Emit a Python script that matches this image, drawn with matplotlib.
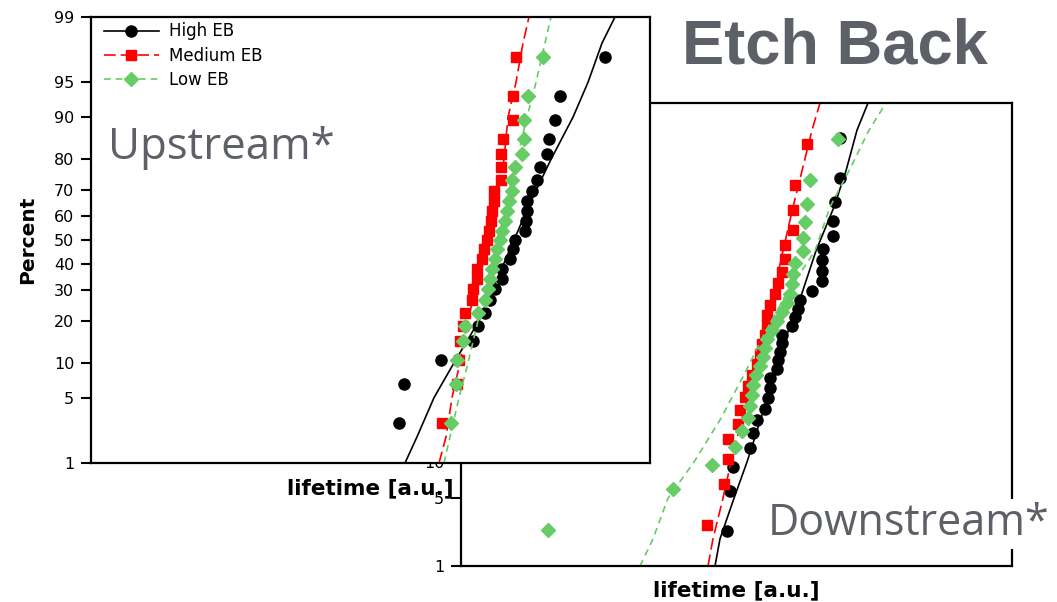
import matplotlib
matplotlib.use("Agg")
import matplotlib.pyplot as plt
import numpy as np
from statistics import NormalDist

# median-rank plotting positions [%]
pct_n25 = [2.8, 6.7, 10.6, 14.6, 18.5, 22.4, 26.4, 30.3, 34.3, 38.2, 42.1, 46.1, 50.0,
           53.9, 57.9, 61.8, 65.7, 69.7, 73.6, 77.6, 81.5, 85.4, 89.4, 93.3, 97.2]
pct_n28 = [2.5, 6.0, 9.5, 13.0, 16.5, 20.1, 23.6, 27.1, 30.6, 34.2, 37.7, 41.2, 44.7, 48.2,
           51.8, 55.3, 58.8, 62.3, 65.8, 69.4, 72.9, 76.4, 79.9, 83.5, 87.0, 90.5, 94.0, 97.5]
pct_n29 = [2.4, 5.8, 9.2, 12.6, 16.0, 19.4, 22.8, 26.2, 29.6, 33.0, 36.4, 39.8, 43.2, 46.6, 50.0,
           53.4, 56.8, 60.2, 63.6, 67.0, 70.4, 73.8, 77.2, 80.6, 84.0, 87.4, 90.8, 94.2, 97.6]
fit_pct = [1, 2, 5, 10, 20, 35, 50, 65, 80, 90, 95, 98, 99]
yticks = [1, 5, 10, 20, 30, 40, 50, 60, 70, 80, 90, 95, 99]

# upstream lifetimes [a.u.]
up_high = [30.8, 31.3, 35.0, 38.2, 38.7, 39.4, 39.9, 40.4, 41.1, 41.1, 41.9, 42.2, 42.4,
           43.4, 43.5, 43.6, 43.6, 44.1, 44.6, 44.9, 45.6, 45.8, 46.4, 46.9, 51.4]
up_med = [35.1, 36.6, 36.8, 36.9, 37.2, 37.4, 38.1, 38.2, 38.6, 38.6, 39.1, 39.3, 39.6,
          39.8, 40.0, 40.1, 40.3, 40.3, 41.0, 41.0, 41.0, 41.2, 42.2, 42.2, 42.5]
up_low = [36.0, 36.5, 36.6, 37.2, 37.4, 38.7, 39.4, 39.7, 39.9, 40.1, 40.4, 40.6, 40.9,
          41.1, 41.4, 41.6, 41.8, 42.1, 42.1, 42.4, 43.1, 43.3, 43.3, 43.7, 45.2]
up_high_fit = [31.4, 32.6, 34.3, 36.3, 38.8, 40.7, 42.3, 43.9, 46.0, 48.2, 49.7, 51.1, 52.4]
up_med_fit = [34.8, 35.5, 36.1, 36.9, 37.7, 38.7, 39.6, 40.5, 41.3, 41.7, 42.5, 43.2, 43.8]
up_low_fit = [35.3, 35.9, 36.8, 37.7, 38.7, 39.8, 40.6, 41.5, 42.6, 43.6, 44.5, 45.4, 46.0]

# downstream lifetimes [a.u.]
dn_high = [26.6, 26.9, 27.2, 28.9, 29.2, 29.6, 30.4, 30.7, 30.9, 30.9, 31.6, 31.7, 31.9, 32.1, 32.1,
           33.1, 33.4, 33.7, 33.9, 35.1, 36.1, 36.1, 36.1, 36.2, 37.2, 37.2, 37.4, 37.9, 37.9]
dn_med = [24.6, 26.3, 26.7, 26.7, 27.7, 27.9, 28.4, 28.7, 29.1, 29.6, 29.9, 30.1, 30.4,
          30.6, 30.6, 30.9, 31.4, 31.7, 32.1, 32.4, 32.4, 33.2, 33.2, 33.4, 34.6]
dn_low = [8.7, 21.2, 25.1, 27.4, 28.1, 28.7, 28.9, 29.1, 29.2, 29.5, 29.9, 30.2, 30.4, 30.6,
          31.1, 31.6, 32.1, 32.6, 32.9, 33.1, 33.2, 33.4, 34.2, 34.2, 34.4, 34.6, 34.9, 37.7]
dn_high_fit = [25.4, 25.9, 27.3, 28.6, 30.0, 31.4, 32.6, 34.0, 35.5, 37.3, 38.5, 39.6, 40.7]
dn_med_fit = [24.7, 25.2, 26.2, 27.0, 28.1, 29.3, 30.3, 31.2, 32.2, 33.2, 34.1, 35.1, 35.9]
dn_low_fit = [17.9, 19.2, 20.7, 23.3, 26.0, 28.4, 30.3, 32.4, 35.4, 36.9, 38.8, 40.8, 42.5]

labels = ["High EB", "Medium EB", "Low EB"]
GREEN = "#66cc66"
GREY = "#5e6068"

_nd = NormalDist()


def _ppf(p):
    p = np.clip(np.asarray(p, dtype=float), 1e-6, 100 - 1e-6)
    return np.vectorize(lambda v: _nd.inv_cdf(v / 100.0), otypes=[float])(p)


def _cdf(z):
    z = np.asarray(z, dtype=float)
    return np.vectorize(lambda v: 100.0 * _nd.cdf(v), otypes=[float])(z)


styles = [
    dict(color="black", marker="o", ms=8, ls="-"),
    dict(color="red", marker="s", ms=7.5, ls=(0, (7, 3))),
    dict(color=GREEN, marker="D", ms=7.5, ls=(0, (4, 3))),
]


def prob_panel(ax, pts, fits, pcts, xlim):
    ax.set_yscale("function", functions=(_ppf, _cdf))
    for x, p, xf, st in zip(pts, pcts, fits, styles):
        ax.plot(xf, fit_pct, color=st["color"], ls=st["ls"], lw=1.2)
        ax.plot(x, p, color=st["color"], marker=st["marker"], ms=st["ms"], ls="none")
    ax.set_ylim(1, 99)
    ax.set_xlim(*xlim)
    ax.set_yticks(yticks)
    ax.set_yticklabels([str(t) for t in yticks])
    ax.yaxis.set_minor_locator(matplotlib.ticker.NullLocator())
    ax.set_xticks([])
    ax.tick_params(axis="y", length=7, width=1.5, pad=5, labelsize=11.5)
    for s in ax.spines.values():
        s.set_linewidth(1.6)
    ax.set_facecolor("white")


fig = plt.figure(figsize=(10.57, 6.02), dpi=100)

# downstream panel first, so the upstream one sits on top of it
ax_dn = fig.add_axes([461 / 1057, 36 / 602, 551 / 1057, 463 / 602])
prob_panel(ax_dn, [dn_high, dn_med, dn_low], [dn_high_fit, dn_med_fit, dn_low_fit],
           [pct_n29, pct_n25, pct_n28], (0, 55.1))
ax_dn.set_xlabel("lifetime [a.u.]", fontsize=15.5, fontweight="bold", labelpad=10)

ax_up = fig.add_axes([91 / 1057, 139 / 602, 559 / 1057, 446 / 602])
prob_panel(ax_up, [up_high, up_med, up_low], [up_high_fit, up_med_fit, up_low_fit],
           [pct_n25, pct_n25, pct_n25], (0, 55.9))
ax_up.set_xlabel("lifetime [a.u.]", fontsize=15.5, fontweight="bold", labelpad=11)
ax_up.set_ylabel("Percent", fontsize=14.5, fontweight="bold", labelpad=12)

handles = [matplotlib.lines.Line2D([], [], lw=1.2, **st) for st in styles]
ax_up.legend(handles, labels, loc="upper left", bbox_to_anchor=(0.023, 0.988),
             frameon=False, fontsize=12, handlelength=3.3, handletextpad=0.6,
             labelspacing=0.38, borderpad=0, borderaxespad=0)

fig.text(682 / 1057, 1 - 63 / 602, "Etch Back", fontsize=45.5, fontweight="bold",
         color=GREY, family="Liberation Sans", ha="left", va="baseline")
fig.text(108 / 1057, 1 - 159 / 602, "Upstream*", fontsize=31.5, color=GREY,
         family="Open Sans", ha="left", va="baseline")
fig.text(768 / 1057, 1 - 535 / 602, "Downstream*", fontsize=31, color=GREY,
         family="Open Sans", ha="left", va="baseline",
         bbox=dict(facecolor="white", edgecolor="none", pad=2))

fig.savefig("out.png", dpi=100)
